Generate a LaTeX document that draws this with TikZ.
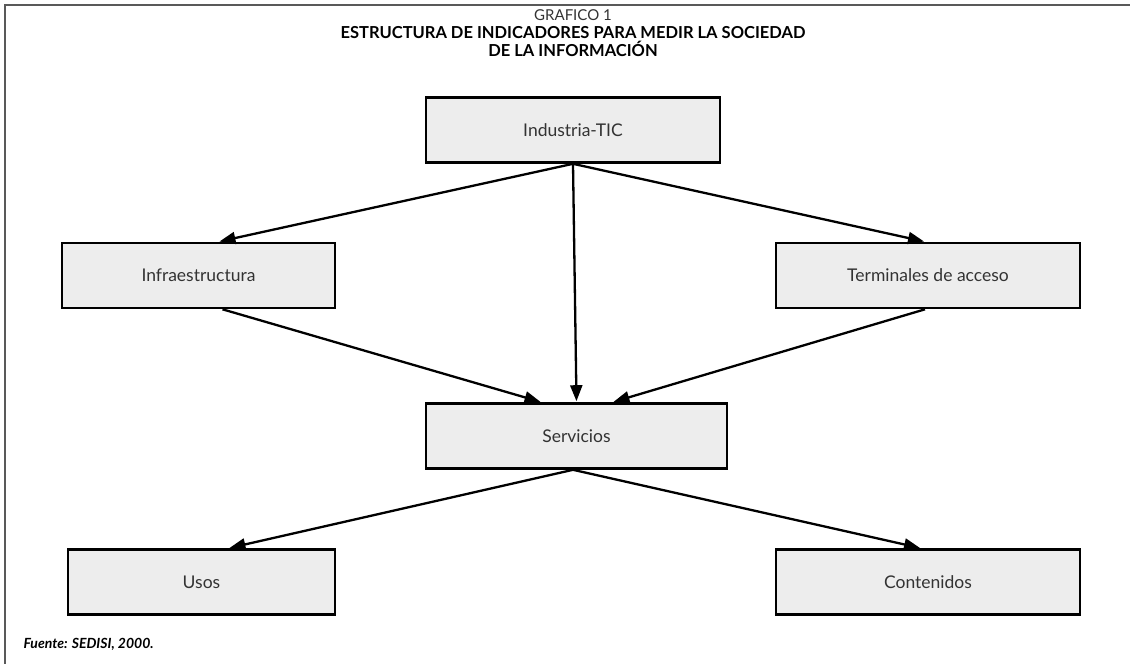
\documentclass[tikz,border=0pt]{standalone}
\usepackage{fontspec}
\setmainfont{Lato}
\usetikzlibrary{arrows.meta}
\begin{document}
\begin{tikzpicture}[x=1pt,y=-1pt,
  box/.style={draw=black, line width=2.6pt, fill=boxgray, minimum width=#1, minimum height=65pt, inner sep=0pt, font=\fontsize{17.5}{20}\selectfont, text=black!80},
  link/.style={line width=2.3pt, -{Triangle[length=16pt,width=12pt]}, shorten >=1pt}
]
\definecolor{boxgray}{HTML}{EDEDED}
\useasboundingbox (0,0) rectangle (1130,664);
% frame
\draw[line width=2pt, gray!70!black] (1130,5) -- (5,5) -- (5,664);
% title
\node[font=\fontsize{15}{17}\selectfont, text=black!80] (g1) at (573,15) {GRAFICO 1};
\node[font=\bfseries\fontsize{16.5}{18}\selectfont, align=center] (tt) at (573,42) {ESTRUCTURA DE INDICADORES PARA MEDIR LA SOCIEDAD\\DE LA INFORMACIÓN};
% boxes
\node[box=294pt] (ind) at (573,130) {Industria-TIC};
\node[box=273pt] (inf) at (198.5,275.5) {Infraestructura};
\node[box=304pt] (ter) at (928,275.5) {Terminales de acceso};
\node[box=301pt] (ser) at (576.5,436) {Servicios};
\node[box=267pt] (uso) at (201.5,582) {Usos};
\node[box=304pt] (con) at (928,582) {Contenidos};
% connectors
\draw[link] (ind.south) -- ([xshift=20pt]inf.north);
\draw[link] (ind.south) -- ([xshift=-3pt]ter.north);
\draw[link] (ind.south) -- ([xshift=3.5pt]ser.north -| ind.south);
\draw[link] ([xshift=24pt]inf.south) -- ([xshift=-35pt]ser.north);
\draw[link] ([xshift=-3pt]ter.south) -- ([xshift=36pt]ser.north);
\draw[link] ([xshift=-3.5pt]ser.south) -- ([xshift=27pt]uso.north);
\draw[link] ([xshift=-3.5pt]ser.south) -- ([xshift=-7pt]con.north);
% source
\node[anchor=west, font=\bfseries\itshape\fontsize{14}{16}\selectfont] (src) at (20,644) {Fuente: SEDISI, 2000.};
\end{tikzpicture}
\end{document}
